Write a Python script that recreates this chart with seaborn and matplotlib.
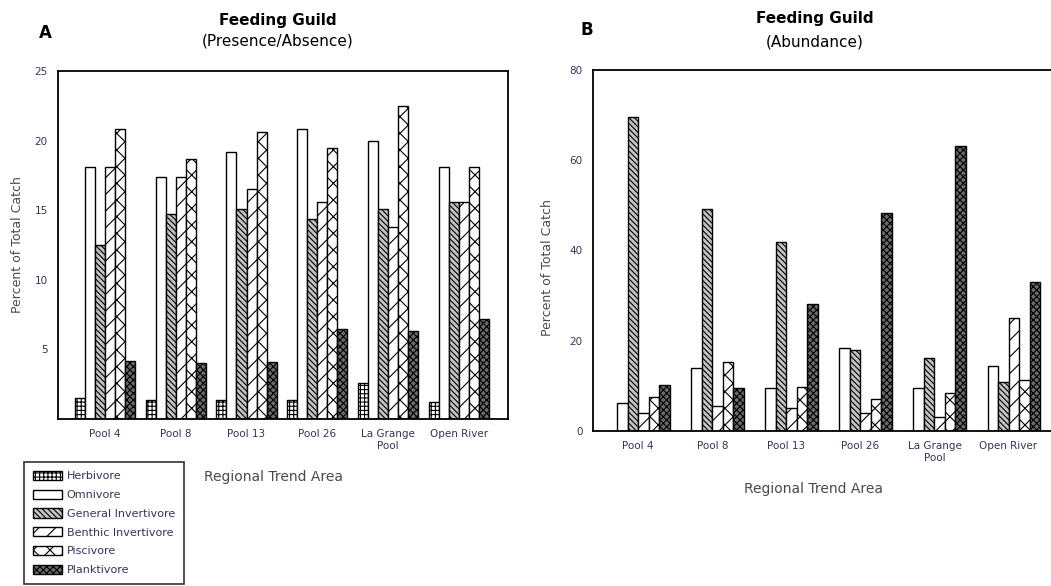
import matplotlib
matplotlib.use("Agg")
import matplotlib.pyplot as plt
import seaborn as sns
import pandas as pd
from matplotlib.patches import Patch

# data
areas = ["Pool 4", "Pool 8", "Pool 13", "Pool 26", "La Grange\nPool", "Open River"]
guilds = ["Herbivore", "Omnivore", "General Invertivore", "Benthic Invertivore",
          "Piscivore", "Planktivore"]

# panel A: presence/absence, one list per guild (values per area)
presence_herbivore = [1.5, 1.4, 1.4, 1.4, 2.6, 1.2]
presence_omnivore = [18.1, 17.4, 19.2, 20.8, 20.0, 18.1]
presence_general_inv = [12.5, 14.7, 15.1, 14.4, 15.1, 15.6]
presence_benthic_inv = [18.1, 17.4, 16.5, 15.6, 13.8, 15.6]
presence_piscivore = [20.8, 18.7, 20.6, 19.5, 22.5, 18.1]
presence_planktivore = [4.2, 4.0, 4.1, 6.5, 6.3, 7.2]

# panel B: abundance
abund_herbivore = [0, 0, 0, 0, 0, 0]
abund_omnivore = [6.3, 13.9, 9.5, 18.3, 9.5, 14.3]
abund_general_inv = [69.6, 49.1, 41.8, 17.9, 16.2, 10.9]
abund_benthic_inv = [3.9, 5.5, 5.2, 3.9, 3.2, 25.0]
abund_piscivore = [7.6, 15.4, 9.8, 7.2, 8.5, 11.4]
abund_planktivore = [10.3, 9.5, 28.1, 48.4, 63.1, 33.1]

presence = [presence_herbivore, presence_omnivore, presence_general_inv,
            presence_benthic_inv, presence_piscivore, presence_planktivore]
abundance = [abund_herbivore, abund_omnivore, abund_general_inv,
             abund_benthic_inv, abund_piscivore, abund_planktivore]

def long_df(series):
    rows = []
    for g, vals in zip(guilds, series):
        for a, v in zip(areas, vals):
            rows.append({"Area": a, "Guild": g, "Value": v})
    return pd.DataFrame(rows)

df_a = long_df(presence)
df_b = long_df(abundance)

# styles per guild
faces = ["white", "white", "#c4c4c4", "white", "white", "#6a6a6a"]
hatches = ["++++", "", "\\\\\\\\\\\\", "//", "xx", "xxxxx"]

sns.set_style("white")
plt.rcParams["font.family"] = ["Liberation Sans Narrow", "DejaVu Sans Condensed",
                               "DejaVu Sans"]
plt.rcParams["hatch.linewidth"] = 0.8
plt.rcParams["text.color"] = "black"

fig = plt.figure(figsize=(10.51, 5.86), dpi=100)
ax_a = fig.add_axes([58 / 1051, 1 - 419 / 586, 450 / 1051, 348 / 586])
ax_b = fig.add_axes([593 / 1051, 1 - 431 / 586, 460 / 1051, 361 / 586])

tick_col = "#34345a"
lab_col = "#4a4a4a"

for ax, data in [(ax_a, df_a), (ax_b, df_b)]:
    sns.barplot(data=data, x="Area", y="Value", hue="Guild", hue_order=guilds,
                order=areas, palette=["white"] * 6, width=0.85, gap=0,
                edgecolor="black", linewidth=1.0, saturation=1, ax=ax,
                legend=False, errorbar=None)
    for cont, fc, h in zip(ax.containers, faces, hatches):
        for p in cont.patches:
            p.set_facecolor(fc)
            p.set_hatch(h)
    for s in ax.spines.values():
        s.set_color("black")
        s.set_linewidth(1.3)
    ax.tick_params(axis="both", direction="inout", length=8, width=1.2,
                   colors="black", labelcolor=tick_col, labelsize=7.5)
    ax.set_xlabel("Regional Trend Area", fontsize=10, color=lab_col)
    ax.set_ylabel("Percent of Total Catch", fontsize=9, color=lab_col)

ax_a.set_xlim(-0.66, 5.69)
ax_a.set_ylim(0, 25)
ax_a.set_yticks([5, 10, 15, 20, 25])
ax_a.xaxis.set_label_coords(0.478, -0.147)
ax_a.yaxis.set_label_coords(-0.075, 0.5)

ax_b.set_xlim(-0.61, 5.6)
ax_b.set_ylim(0, 80)
ax_b.set_yticks([0, 20, 40, 60, 80])
ax_b.spines["right"].set_visible(False)
ax_b.xaxis.set_label_coords(0.479, -0.141)
ax_b.yaxis.set_label_coords(-0.085, 0.454)

# titles and panel letters
fig.text(45 / 1051, 1 - 33 / 586, "A", fontsize=12, fontweight="bold",
         ha="center", va="center")
fig.text(278 / 1051, 1 - 20 / 586, "Feeding Guild", fontsize=11,
         fontweight="bold", ha="center", va="center")
fig.text(278 / 1051, 1 - 41 / 586, "(Presence/Absence)", fontsize=11,
         ha="center", va="center")
fig.text(587 / 1051, 1 - 30 / 586, "B", fontsize=12, fontweight="bold",
         ha="center", va="center")
fig.text(815 / 1051, 1 - 19 / 586, "Feeding Guild", fontsize=11,
         fontweight="bold", ha="center", va="center")
fig.text(815 / 1051, 1 - 42 / 586, "(Abundance)", fontsize=11,
         ha="center", va="center")

# legend below panel A
handles = [Patch(facecolor=fc, edgecolor="black", hatch=h, linewidth=1.0)
           for fc, h in zip(faces, hatches)]
leg = fig.legend(handles, guilds, loc="upper left",
                 bbox_to_anchor=(24 / 1051, 1 - 462 / 586), fontsize=8,
                 handlelength=2.6, handleheight=0.9, labelspacing=0.75,
                 handletextpad=0.45, borderpad=0.8, borderaxespad=0,
                 fancybox=False, frameon=True, labelcolor=tick_col)
leg.get_frame().set_edgecolor("black")
leg.get_frame().set_linewidth(1.2)

fig.savefig("out.png", dpi=100)
